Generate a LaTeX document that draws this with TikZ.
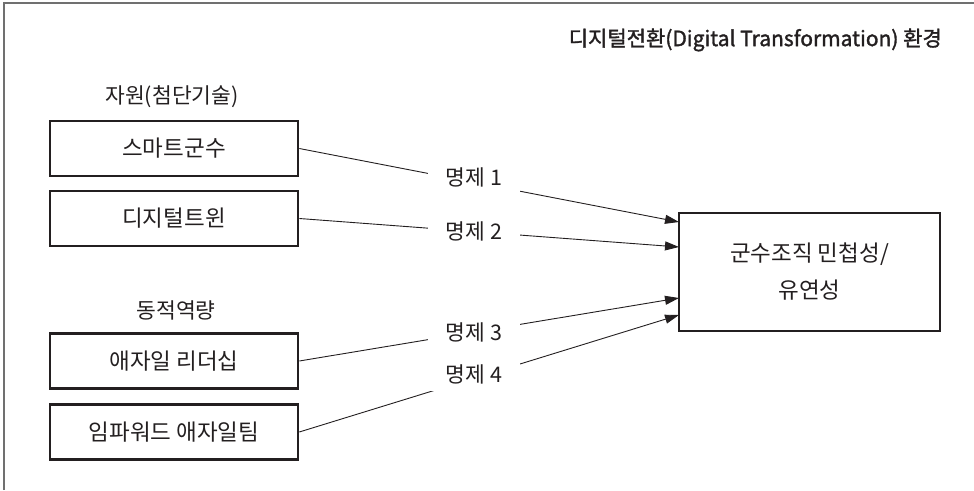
\documentclass[tikz,border=0pt]{standalone}
\usepackage{fontspec}
\setmainfont{Noto Sans CJK KR}
\newfontfamily\titlefont[FakeBold=1.6]{Noto Sans CJK KR}
\usetikzlibrary{arrows.meta}
\definecolor{ink}{HTML}{231F20}
\definecolor{framegray}{HTML}{707070}
\begin{document}
\begin{tikzpicture}[x=1pt,y=-1pt,
  txt/.style={font=\fontsize{21.5}{36}\selectfont, text=ink, inner sep=0pt},
  bigtxt/.style={font=\fontsize{22.5}{37}\selectfont, text=ink, inner sep=0pt},
  box/.style={bigtxt, draw=ink, line width=2.6pt, minimum width=248pt, minimum height=55pt},
  conn/.style={draw=ink, line width=0.9pt, -{Triangle[length=14pt,width=9pt]}},
  lab/.style={txt, fill=white, minimum width=92pt, minimum height=34pt}]
\useasboundingbox (0,0) rectangle (974,490);
\draw[framegray, line width=1.3pt] (4,490) -- (4,3) -- (974,3);
\node[text=ink, inner sep=0pt, font=\titlefont\fontsize{21}{24}\selectfont, anchor=east] (title) at (942,40) {디지털전환(Digital Transformation) 환경};
\node[txt] (res) at (172,97) {자원(첨단기술)};
\node[txt] (dyn) at (176,310) {동적역량};
\node[box] (b1) at (174,148.5) {스마트군수};
\node[box] (b2) at (174,218.5) {디지털트윈};
\node[box] (b3) at (174,361) {애자일 리더십};
\node[box] (b4) at (174,432) {임파워드 애자일팀};
\node[bigtxt, draw=ink, line width=2.6pt, minimum width=261pt, minimum height=118pt, align=center] (t) at (809.5,272) {군수조직 민첩성/\\유연성};
\coordinate (t1) at (679,222);
\coordinate (t2) at (679,247);
\coordinate (t3) at (679,298);
\coordinate (t4) at (679,315);
\draw[conn] (b1.east) -- node[lab, pos=0.46, yshift=5pt] {명제 1} (t1);
\draw[conn] (b2.east) -- node[lab, pos=0.46] {명제 2} (t2);
\draw[conn] (b3.east) -- node[lab, pos=0.46] {명제 3} (t3);
\draw[conn] (b4.east) -- node[lab, pos=0.46, yshift=4pt] {명제 4} (t4);
\end{tikzpicture}
\end{document}
